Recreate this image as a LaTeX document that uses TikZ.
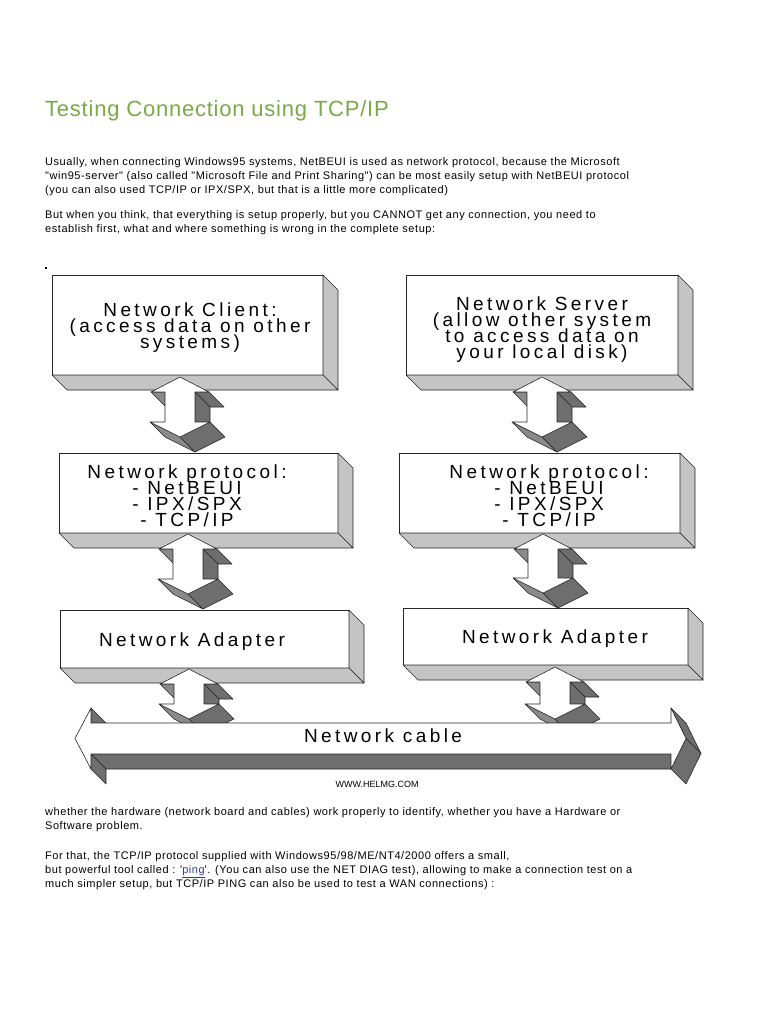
\documentclass[tikz,border=0pt]{standalone}
\usepackage{fontspec}
\setmainfont{Liberation Sans}
\newfontfamily\boxfont[LetterSpace=18]{Liberation Sans}
\newfontfamily\headfont[LetterSpace=3.5]{Liberation Sans}
\newfontfamily\bodyfont[LetterSpace=5]{Liberation Sans}
\usepackage{tikz}
\usetikzlibrary{calc,positioning}

\definecolor{headgreen}{RGB}{122,170,68}
\definecolor{sidelight}{RGB}{196,196,196}
\definecolor{sidemid}{RGB}{138,138,138}
\definecolor{sidedark}{RGB}{110,110,110}
\definecolor{linkblue}{RGB}{40,60,150}

% one extruded face from edge (#1)-(#2), depth 15 down-right
\newcommand\sweep[3]{\filldraw[face,fill=#3] (#1) -- (#2) -- ++(15,15) -- ($(#1)+(15,15)$) -- cycle;}
% sides of a slab node
\newcommand\slabsides[1]{\sweep{#1.north east}{#1.south east}{sidelight}\sweep{#1.south east}{#1.south west}{sidelight}}
% 3d double arrow, #1 top tip, #2 bottom tip
\newcommand\updown[2]{%
  \path #1 coordinate (t) #2 coordinate (b);
  \coordinate (p6) at (t|-b);
  \coordinate (p2) at ($(t)+(29,15)$);
  \coordinate (p3) at ($(t)+(15,15)$);
  \coordinate (p4) at ($(p6)+(15,-15)$);
  \coordinate (p5) at ($(p6)+(30,-15)$);
  \coordinate (p7) at ($(p6)+(-30,-15)$);
  \coordinate (p8) at ($(p6)+(-15,-15)$);
  \coordinate (p9) at ($(t)+(-15,15)$);
  \coordinate (p10) at ($(t)+(-29,15)$);
  \sweep{p9}{p10}{sidemid}
  \sweep{p2}{p3}{sidedark}
  \sweep{p3}{p4}{sidedark}
  \sweep{p6}{p7}{sidemid}
  \sweep{p5}{p6}{sidedark}
  \filldraw[face,fill=white] (t) -- (p2) -- (p3) -- (p4) -- (p5) -- (p6) -- (p7) -- (p8) -- (p9) -- (p10) -- cycle;
}

\begin{document}
\begin{tikzpicture}
	% Styles
	[
	x=1pt,y=-1pt,
	face/.style={draw=black!85,line width=0.6pt,line join=round},
	slab/.style={draw=black!85,fill=white,line width=0.8pt,inner sep=0pt,outer sep=0pt},
	slabtext/.style={align=center,inner sep=0pt,font={\boxfont\fontsize{19}{16}\selectfont\lineskiplimit=-100pt}},
	bodytext/.style={anchor=north west,align=left,inner sep=0pt,font={\bodyfont\fontsize{11}{14}\selectfont}},
	]

	\fill[white] (0,0) rectangle (768,1024);
	\useasboundingbox (0,0) rectangle (768,1024);

	% Text above
	\node[anchor=base west,inner sep=0pt,text=headgreen,font={\headfont\fontsize{22}{26}\selectfont}] (title) at (45,117) {Testing Connection using TCP/IP};
	\node[bodytext] (intro) at (45,157) {Usually, when connecting Windows95 systems, NetBEUI is used as network protocol, because the Microsoft\\
		"win95-server" (also called "Microsoft File and Print Sharing") can be most easily setup with NetBEUI protocol\\
		(you can also used TCP/IP or IPX/SPX, but that is a little more complicated)};
	\node[bodytext] (but) at (45,210) {But when you think, that everything is setup properly, but you CANNOT get any connection, you need to\\
		establish first, what and where something is wrong in the complete setup:};
	\fill (45,267) rectangle (47,269);

	% Nodes
	\node[slab,minimum width=271,minimum height=100] (client) at (187.5,325) {};
	\node[slab,minimum width=272,minimum height=100] (server) at (542,325) {};
	\node[slab,minimum width=279,minimum height=80]  (cproto) at (198.5,493) {};
	\node[slab,minimum width=281,minimum height=80]  (sproto) at (539.5,493) {};
	\node[slab,minimum width=289,minimum height=58]  (cnic)   at (204.5,639) {};
	\node[slab,minimum width=285,minimum height=57]  (snic)   at (545.5,636.5) {};
	\foreach \n in {client,server,cproto,sproto,cnic,snic} {\slabsides{\n}}

	\node[slabtext] (client-txt) at ($(client)+(2.5,3)$) {Network Client:\\(access data on other\\systems)};
	\node[slabtext] (server-txt) at ($(server)+(0,4.5)$) {Network Server\\(allow other system\\to access data on\\your local disk)};
	\node[slabtext] (cproto-txt) at ($(cproto)+(-11.5,2.5)$) {Network protocol:\\- NetBEUI\\- IPX/SPX\\- TCP/IP};
	\node[slabtext] (sproto-txt) at ($(sproto)+(9.5,3)$) {Network protocol:\\- NetBEUI\\- IPX/SPX\\- TCP/IP};
	\node[slabtext] (cnic-txt) at ($(cnic)+(-12.5,3)$) {Network Adapter};
	\node[slabtext] (snic-txt) at ($(snic)+(9.5,2.5)$) {Network Adapter};

	\path node[minimum width=580,minimum height=31,inner sep=0pt,outer sep=0pt] (cable) at (381,738.5) {};

	% Connections
	\updown{($(client.south)+(-7.5,2)$)}{($(cproto.north)+(0,-16)$)}
	\updown{($(server.south)+(0,2)$)}{($(sproto.north)+(0,-16)$)}
	\updown{($(cproto.south)+(-10.5,1)$)}{($(cnic.north)+(0,-16)$)}
	\updown{($(sproto.south)+(3.5,1)$)}{($(snic.north)+(0,-15)$)}
	\updown{($(cnic.south)+(-15.5,1)$)}{($(cable.north)+(0,-4)$)}
	\updown{($(snic.south)+(9.5,2)$)}{($(cable.north)+(0,-4)$)}

	% Cable
	\coordinate (l1) at ($(cable.west)+(-16,0)$);
	\coordinate (l2) at ($(cable.north west)+(0,-15)$);
	\coordinate (l5) at ($(cable.north east)+(0,-15)$);
	\coordinate (l6) at ($(cable.east)+(15,0)$);
	\coordinate (l7) at ($(cable.south east)+(0,15)$);
	\coordinate (l10) at ($(cable.south west)+(0,15)$);
	\sweep{l2}{cable.north west}{sidedark}
	\sweep{cable.south east}{cable.south west}{sidedark}
	\sweep{cable.south west}{l10}{sidedark}
	\sweep{l5}{l6}{sidedark}
	\sweep{l6}{l7}{sidedark}
	\filldraw[face,fill=white] (l1) -- (l2) -- (cable.north west) -- (cable.north east) -- (l5) -- (l6) -- (l7)
		-- (cable.south east) -- (cable.south west) -- (l10) -- cycle;
	\node[slabtext] (cable-txt) at ($(cable)+(2,-2.5)$) {Network cable};

	\node[inner sep=0pt,font={\fontsize{9}{10}\selectfont}] (site) at (377,784) {WWW.HELMG.COM};

	% Text below
	\node[bodytext] (hw) at (45,807) {whether the hardware (network board and cables) work properly to identify, whether you have a Hardware or\\
		Software problem.};
	\node[bodytext] (ping) at (45,851) {For that, the TCP/IP protocol supplied with Windows95/98/ME/NT4/2000 offers a small,\\
		but powerful tool called : {\char"27}\textcolor{linkblue}{\underline{ping}}{\char"27}. (You can also use the NET DIAG test), allowing to make a connection test on a\\
		much simpler setup, but TCP/IP PING can also be used to test a WAN connections) :};
\end{tikzpicture}
\end{document}
